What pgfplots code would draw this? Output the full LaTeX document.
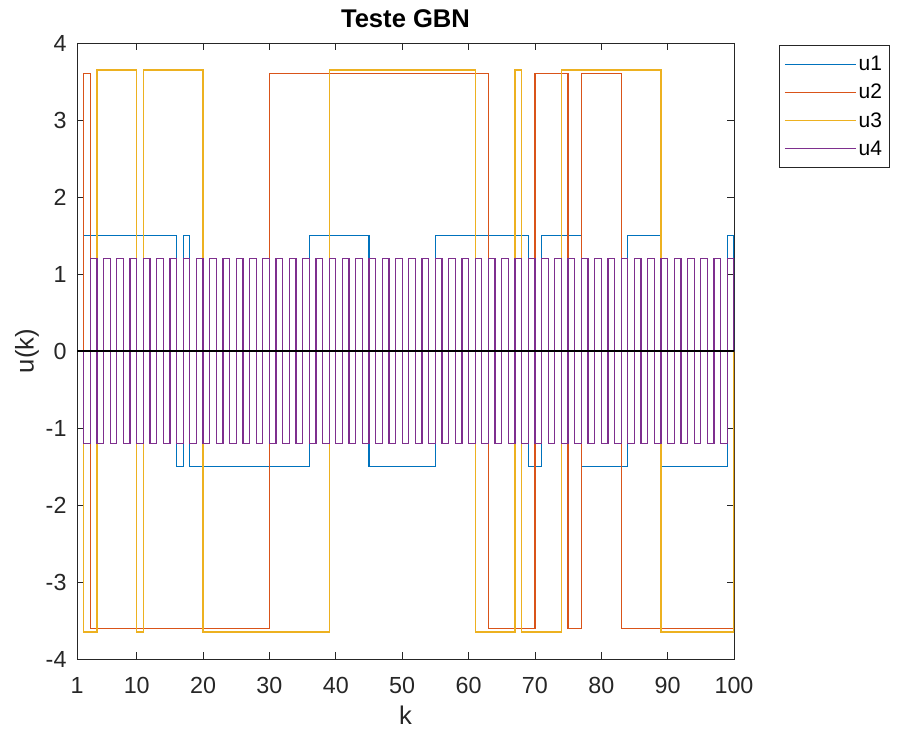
\documentclass[border=0pt]{standalone}
\usepackage{fontspec}
\setmainfont{Liberation Sans}
\usepackage{pgfplots}
\pgfplotsset{compat=1.18}
\definecolor{mb}{rgb}{0,0.447,0.741}
\definecolor{mo}{rgb}{0.85,0.325,0.098}
\definecolor{my}{rgb}{0.929,0.694,0.125}
\definecolor{mp}{rgb}{0.494,0.184,0.556}
\definecolor{ag}{rgb}{0.15,0.15,0.15}
\begin{document}
\begin{tikzpicture}
\begin{axis}[name=ax, scale only axis, width=657pt, height=616pt,
  xmin=1, xmax=100, ymin=-4, ymax=4,
  xtick={1,10,20,30,40,50,60,70,80,90,100},
  xticklabels={1,10,20,30,40,50,60,70,80,90,100},
  ytick={-4,-3,-2,-1,0,1,2,3,4},
  yticklabels={-4,-3,-2,-1,0,1,2,3,4},
  tick align=inside, major tick length=7pt,
  tick style={color=ag, line width=0.8pt},
  axis line style={color=ag, line width=0.8pt},
  ticklabel style={font=\fontsize{23.3}{28}\selectfont, text=ag},
  xticklabel style={yshift=-15pt},
  yticklabel style={xshift=-7pt},
  title={Teste GBN},
  title style={font=\bfseries\fontsize{25.6}{30}\selectfont, yshift=6pt},
  xlabel={k}, ylabel={u(k)},
  label style={font=\fontsize{25.6}{30}\selectfont, text=ag},
  xlabel style={yshift=-5pt},
  legend style={at={(1,1)}, anchor=north west, xshift=45pt, yshift=-2pt,
    font=\fontsize{21}{25}\selectfont, draw=ag, line width=0.6pt,
    inner xsep=5pt, inner ysep=9pt, row sep=8pt,
    cells={anchor=west}},
  legend image code/.code={\draw[#1, line width=1.3pt] (0pt,0pt) -- (71pt,0pt);},
  every axis plot/.append style={line width=1.3pt},
]
\addplot[mb, const plot] coordinates {(1,0) (2,1.5) (16,-1.5) (17,1.5) (18,-1.5) (36,1.5) (45,-1.5) (55,1.5) (69,-1.5) (71,1.5) (77,-1.5) (84,1.5) (89,-1.5) (99,1.5) (100,0)};
\addlegendentry{u1}
\addplot[mo, const plot] coordinates {(1,0) (2,3.6) (3,-3.6) (30,3.6) (63,-3.6) (70,3.6) (75,-3.6) (77,3.6) (83,-3.6) (100,0)};
\addlegendentry{u2}
\addplot[my, const plot] coordinates {(1,0) (2,-3.65) (4,3.65) (10,-3.65) (11,3.65) (20,-3.65) (39,3.65) (61,-3.65) (67,3.65) (68,-3.65) (74,3.65) (89,-3.65) (100,0)};
\addlegendentry{u3}
\addplot[mp, const plot] coordinates {(1,0) (2,-1.2) (3,1.2) (4,-1.2) (5,1.2) (6,-1.2) (7,1.2) (8,-1.2) (9,1.2) (10,-1.2) (11,1.2) (12,-1.2) (13,1.2) (14,-1.2) (15,1.2) (16,-1.2) (17,1.2) (18,-1.2) (19,1.2) (20,-1.2) (21,1.2) (22,-1.2) (23,1.2) (24,-1.2) (25,1.2) (26,-1.2) (27,1.2) (28,-1.2) (29,1.2) (30,-1.2) (31,1.2) (32,-1.2) (33,1.2) (34,-1.2) (35,1.2) (36,-1.2) (37,1.2) (38,-1.2) (39,1.2) (40,-1.2) (41,1.2) (42,-1.2) (43,1.2) (44,-1.2) (45,1.2) (46,-1.2) (47,1.2) (48,-1.2) (49,1.2) (50,-1.2) (51,1.2) (52,-1.2) (53,1.2) (54,-1.2) (55,1.2) (56,-1.2) (57,1.2) (58,-1.2) (59,1.2) (60,-1.2) (61,1.2) (62,-1.2) (63,1.2) (64,-1.2) (65,1.2) (66,-1.2) (67,1.2) (68,-1.2) (69,1.2) (70,-1.2) (71,1.2) (72,-1.2) (73,1.2) (74,-1.2) (75,1.2) (76,-1.2) (77,1.2) (78,-1.2) (79,1.2) (80,-1.2) (81,1.2) (82,-1.2) (83,1.2) (84,-1.2) (85,1.2) (86,-1.2) (87,1.2) (88,-1.2) (89,1.2) (90,-1.2) (91,1.2) (92,-1.2) (93,1.2) (94,-1.2) (95,1.2) (96,-1.2) (97,1.2) (98,-1.2) (99,1.2) (100,0)};
\addlegendentry{u4}
\addplot[black, line width=1.3pt, forget plot] coordinates {(1,0) (100,0)};
\end{axis}
\pgfresetboundingbox
\path (ax.south west) ++(-77pt,-77pt) coordinate (bl);
\path (ax.north east) ++(164pt,43pt) coordinate (tr);
\path (bl) rectangle (tr);
\end{tikzpicture}
\end{document}
